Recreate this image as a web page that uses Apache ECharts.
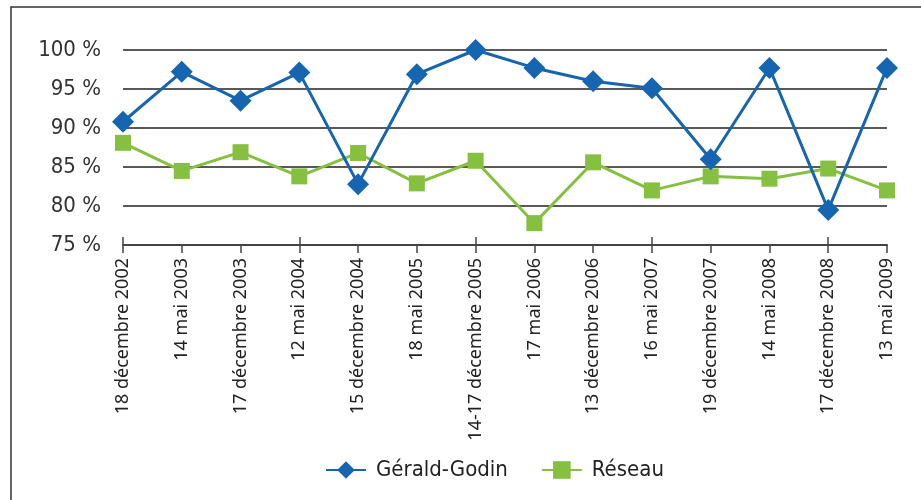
<!DOCTYPE html>
<html>
<head>
<meta charset="utf-8" />
<title>Gérald-Godin / Réseau</title>
<script src="https://cdn.jsdelivr.net/npm/echarts@6/dist/echarts.min.js"></script>
<style>
  html, body { margin: 0; padding: 0; background: #fff; }
  #chart { width: 921px; height: 500px; }
</style>
</head>
<body>
<div id="chart"></div>
<script type="text/javascript">
// dates des mesures
var dates = ['18 décembre 2002', '14 mai 2003', '17 décembre 2003', '12 mai 2004',
  '15 décembre 2004', '18 mai 2005', '14-17 décembre 2005', '17 mai 2006',
  '13 décembre 2006', '16 mai 2007', '19 décembre 2007', '14 mai 2008',
  '17 décembre 2008', '13 mai 2009'];
// Gérald-Godin (%)
var geraldGodin = [90.8, 97.2, 93.5, 97.1, 82.8, 96.9, 100, 97.7, 96.0, 95.1, 86.0, 97.7, 79.5, 97.7];
// Réseau (%)
var reseau = [88.1, 84.5, 86.9, 83.8, 86.8, 82.9, 85.8, 77.8, 85.6, 82.0, 83.8, 83.5, 84.8, 82.0];

var labelFont = '"DejaVu Sans Condensed", "Liberation Sans Narrow", "Noto Sans", sans-serif';

var myChart = echarts.init(document.getElementById('chart'));
var option = {
  animation: false,
  backgroundColor: '#fff',
  graphic: [{
    type: 'rect',
    shape: { x: 11, y: 7, width: 1000, height: 600 },
    style: { fill: 'none', stroke: '#333', lineWidth: 1.5 }
  }],
  grid: { left: 123, right: 34, top: 50, bottom: 255 },
  legend: {
    bottom: 14,
    left: 320,
    itemWidth: 40,
    itemHeight: 22,
    itemGap: 33,
    textStyle: { fontFamily: labelFont, fontSize: 22, color: '#222', padding: [0, 0, 0, 5] },
    data: ['Gérald-Godin', 'Réseau']
  },
  xAxis: [{
    type: 'category',
    boundaryGap: false,
    data: dates,
    axisLine: { lineStyle: { color: '#444', width: 2 } },
    axisTick: { length: 8, lineStyle: { color: '#444', width: 1.5 } },
    axisLabel: {
      rotate: 90,
      interval: 0,
      margin: 13,
      fontFamily: 'Noto Sans',
      fontSize: 18,
      color: '#222'
    }
  }, {
    type: 'category',
    position: 'bottom',
    boundaryGap: false,
    data: dates,
    axisLine: { show: false },
    axisTick: { inside: true, length: 8, lineStyle: { color: '#444', width: 1.5 } },
    axisLabel: { show: false }
  }],
  yAxis: {
    type: 'value',
    min: 75,
    max: 100,
    interval: 5,
    axisLine: { show: false },
    axisTick: { show: false },
    axisLabel: {
      margin: 22,
      fontFamily: labelFont,
      fontSize: 22,
      color: '#333',
      formatter: '{value} %'
    },
    splitLine: { lineStyle: { color: '#222', width: 1.5 } }
  },
  series: [{
    name: 'Gérald-Godin',
    type: 'line',
    data: geraldGodin,
    color: '#1665b0',
    symbol: 'diamond',
    symbolSize: 22,
    lineStyle: { width: 3 },
    z: 3
  }, {
    name: 'Réseau',
    type: 'line',
    data: reseau,
    color: '#86c040',
    symbol: 'rect',
    symbolSize: 16,
    lineStyle: { width: 3 },
    z: 2
  }]
};
myChart.setOption(option);
</script>
</body>
</html>
